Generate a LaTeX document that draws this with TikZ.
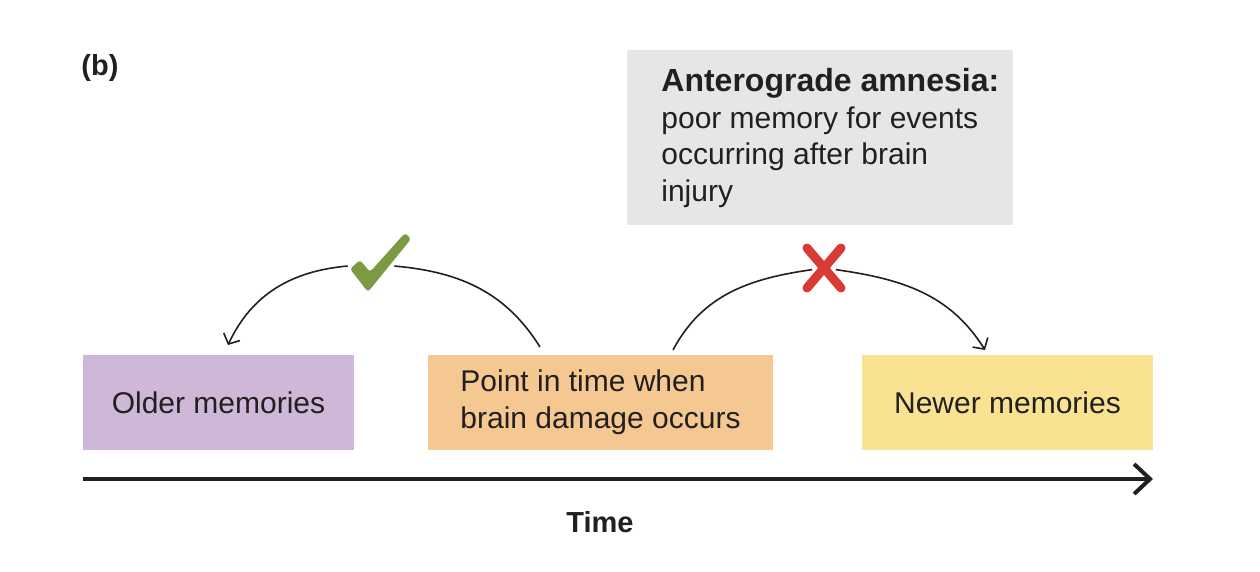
\documentclass[tikz,border=0pt]{standalone}
\usepackage{fontspec}
\setmainfont{Liberation Sans}
\usetikzlibrary{arrows.meta}
\definecolor{inkdark}{HTML}{231F20}
\definecolor{olderfill}{HTML}{CFB8D7}
\definecolor{onsetfill}{HTML}{F5C892}
\definecolor{newerfill}{HTML}{F9E292}
\definecolor{notefill}{HTML}{E6E6E6}
\definecolor{okgreen}{HTML}{7C9A44}
\definecolor{nored}{HTML}{D93A35}
\tikzset{
  membox/.style={minimum height=47.5pt,inner sep=0pt,align=left,text=inkdark,
    font=\fontsize{15}{18.75}\selectfont},                 % memory box
  notebox/.style={fill=notefill,minimum width=193pt,minimum height=87.5pt,inner sep=0pt},
  notetext/.style={inner sep=0pt,align=left,text=inkdark,font=\fontsize{15}{18.25}\selectfont},
  headtext/.style={inner sep=0pt,text=inkdark,font=\fontsize{14.5}{17}\selectfont\bfseries},
  recall/.style={-{Straight Barb[length=4pt,width=9pt]},inkdark,line width=0.8pt},
  timeline/.style={-{Straight Barb[length=8pt,width=15pt]},inkdark,line width=2pt},
  okmark/.style={fill=okgreen,rounded corners=1.5pt},
  nomark/.style={nored,line width=4.5pt,line cap=round},
}

\begin{document}
\begin{tikzpicture}[x=0.5pt,y=0.5pt]
  \useasboundingbox (0,0) rectangle (1260,572);
  % panel label and note
  \node[headtext] (panel) at (100,504) {(b)};
  \node[notebox] (antero) at (820,434.5) {};
  \node[notetext,anchor=north west] (anterotext) at (661,504)
    {{\fontsize{16}{18.25}\selectfont\bfseries Anterograde amnesia:}\\
     poor memory for events\\ occurring after brain\\ injury};
  % memory boxes
  \node[membox,fill=olderfill,minimum width=135.5pt] (older) at (218.5,169.5) {Older memories};
  \node[membox,fill=onsetfill,minimum width=172.5pt] (onset) at (600.5,169.5)
    {Point in time when\\ brain damage occurs};
  \node[membox,fill=newerfill,minimum width=145.5pt] (newer) at (1007.5,169.5) {Newer memories};
  % time axis
  \coordinate (axstart) at (83,93);
  \coordinate (axend) at (1153,93);
  \draw[timeline] (axstart) -- (axend);
  \node[headtext] (time) at (600,50) {Time};
  % recall arcs
  \node[circle,minimum size=23pt,inner sep=0pt] (ok) at (371,308) {};
  \node[circle,minimum size=11.5pt,inner sep=0pt] (no) at (824,304) {};
  \coordinate (onsetL) at (540,225);
  \coordinate (onsetR) at (673,222);
  \coordinate (olderin) at (228,227);
  \coordinate (newerin) at (985,222);
  \draw[recall,-] (onsetL) to[out=122,in=-5] (ok);
  \draw[recall] (ok) to[out=185,in=65] (olderin);
  \draw[recall,-] (onsetR) to[out=62,in=188] (no);
  \draw[recall] (no) to[out=-8,in=122] (newerin);
  % marks
  \fill[okmark,shift={(ok.center)}] (-21,-5) -- (-11,4) -- (-1,-8) -- (34,31) -- (40,25) -- (-3,-28) -- cycle;
  \draw[nomark,shift={(no.center)}] (-17,20) -- (17,-20) (17,20) -- (-17,-20);
\end{tikzpicture}
\end{document}
